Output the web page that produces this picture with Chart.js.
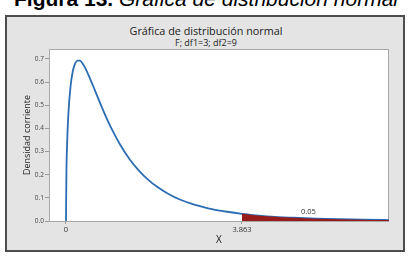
<!DOCTYPE html>
<html>
<head>
<meta charset="utf-8">
<script src="https://cdn.jsdelivr.net/npm/chart.js@4"></script>
<style>
  body { margin: 0; width: 412px; height: 256px; background: #fff; overflow: hidden; position: relative; }
  #caption { position: absolute; left: 0; top: -12px; width: 412px; text-align: center; font: 21px/21px "Liberation Sans", Arial, sans-serif; color: #000; white-space: nowrap; }
  #caption b { font-weight: bold; }
  #caption i { font-style: italic; }
  #frame { position: absolute; left: 5px; top: 15px; width: 400px; height: 237px; box-sizing: border-box; border: 2px solid #4d4d4d; background: #e4e4e4; }
  .title { position: absolute; left: 0; width: 412px; text-align: center; font-family: "Open Sans", sans-serif; color: #222; white-space: nowrap; }
  #t1 { top: 24px; font-size: 10.8px; line-height: 14px; }
  #t2 { top: 36.5px; font-size: 9px; line-height: 11px; }
  #wrap { position: absolute; left: 0; top: 0; width: 412px; height: 256px; }
</style>
</head>
<body>
<div id="caption"><b>Figura 13.</b> <i>Gráfica de distribución normal</i></div>
<div id="frame"></div>
<div class="title" id="t1">Gráfica de distribución normal</div>
<div class="title" id="t2">F; df1=3; df2=9</div>
<div id="wrap"><canvas id="chart" width="412" height="256"></canvas></div>
<script>
// density curve
const xValues = [0, 0.01, 0.02, 0.05, 0.1, 0.15, 0.2, 0.25, 0.3, 0.4, 0.5, 0.6, 0.7, 0.8, 0.9, 1.0,
  1.2, 1.4, 1.6, 1.8, 2.0, 2.25, 2.5, 2.75, 3.0, 3.25, 3.5, 3.863, 4.0, 4.5, 5.0, 5.5, 6.0, 6.5, 7.0, 7.09];
const density = [0, 0.220, 0.304, 0.454, 0.582, 0.648, 0.680, 0.693, 0.693, 0.669, 0.628, 0.581, 0.533, 0.485, 0.440, 0.399,
  0.326, 0.266, 0.218, 0.179, 0.148, 0.117, 0.093, 0.075, 0.061, 0.049, 0.041, 0.031, 0.028, 0.019, 0.014, 0.010, 0.0075, 0.0057, 0.0043, 0.0041];

const critical = 3.863;
const tailLabel = "0.05";
const tailLabelPos = [5.32, 0.039];

const xTicks = [0, critical];
const yTicks = [0, 0.1, 0.2, 0.3, 0.4, 0.5, 0.6, 0.7];
const xRange = [-0.373, 7.09];
const yRange = [0, 0.743];

const curve = xValues.map((x, i) => ({ x, y: density[i] }));
const tail = curve.filter((p) => p.x >= critical);

const plotFrame = {
  id: "plotFrame",
  beforeDraw(chart) {
    const { ctx, chartArea: a } = chart;
    ctx.save();
    ctx.fillStyle = "#ffffff";
    ctx.fillRect(a.left, a.top, a.right - a.left, a.bottom - a.top);
    ctx.restore();
  },
  beforeDatasetsDraw(chart) {
    const { ctx, chartArea: a } = chart;
    ctx.save();
    ctx.strokeStyle = "#a8a8a8";
    ctx.lineWidth = 1;
    ctx.strokeRect(a.left + 0.5, a.top + 0.5, a.right - a.left - 1, a.bottom - a.top);
    ctx.restore();
  },
  afterDatasetsDraw(chart) {
    const { ctx, scales } = chart;
    ctx.save();
    ctx.fillStyle = "#333";
    ctx.font = "7.5px 'Open Sans', sans-serif";
    ctx.textAlign = "center";
    ctx.textBaseline = "middle";
    ctx.fillText(tailLabel, scales.x.getPixelForValue(tailLabelPos[0]), scales.y.getPixelForValue(tailLabelPos[1]));
    ctx.restore();
  },
};

new Chart(document.getElementById("chart"), {
  type: "line",
  data: {
    datasets: [
      {
        data: tail,
        borderWidth: 0,
        backgroundColor: "#981c1c",
        fill: "origin",
        pointRadius: 0,
        cubicInterpolationMode: "monotone",
      },
      {
        data: curve,
        borderColor: "#2c6cb2",
        borderWidth: 1.8,
        fill: false,
        pointRadius: 0,
        cubicInterpolationMode: "monotone",
      },
    ],
  },
  options: {
    responsive: false,
    animation: false,
    layout: { padding: { left: 17, right: 23, top: 49, bottom: 6 } },
    plugins: { legend: { display: false }, tooltip: { enabled: false } },
    scales: {
      x: {
        type: "linear",
        min: xRange[0],
        max: xRange[1],
        afterBuildTicks: (axis) => { axis.ticks = xTicks.map((v) => ({ value: v })); },
        afterFit: (axis) => { axis.height = 29; },
        border: { display: false },
        grid: { drawOnChartArea: false, tickLength: 3, color: "#9a9a9a" },
        ticks: {
          padding: 1,
          maxRotation: 0,
          color: "#333",
          font: { family: "Open Sans", size: 7.5 },
          callback: (v) => String(v),
        },
        title: { display: true, text: "X", color: "#222", font: { family: "Open Sans", size: 10 }, padding: { top: 0, bottom: 4 } },
      },
      y: {
        min: yRange[0],
        max: yRange[1],
        afterBuildTicks: (axis) => { axis.ticks = yTicks.map((v) => ({ value: v })); },
        afterFit: (axis) => { axis.width = 32; },
        border: { display: false },
        grid: { drawOnChartArea: false, tickLength: 4, color: "#9a9a9a" },
        ticks: {
          padding: 1,
          color: "#444",
          font: { family: "Open Sans", size: 6.5 },
          callback: (v) => v.toFixed(1),
        },
        title: { display: true, text: "Densidad corriente", color: "#222", font: { family: "Open Sans", size: 9 }, padding: { top: 4.6, bottom: 0 } },
      },
    },
  },
  plugins: [plotFrame],
});
</script>
</body>
</html>
